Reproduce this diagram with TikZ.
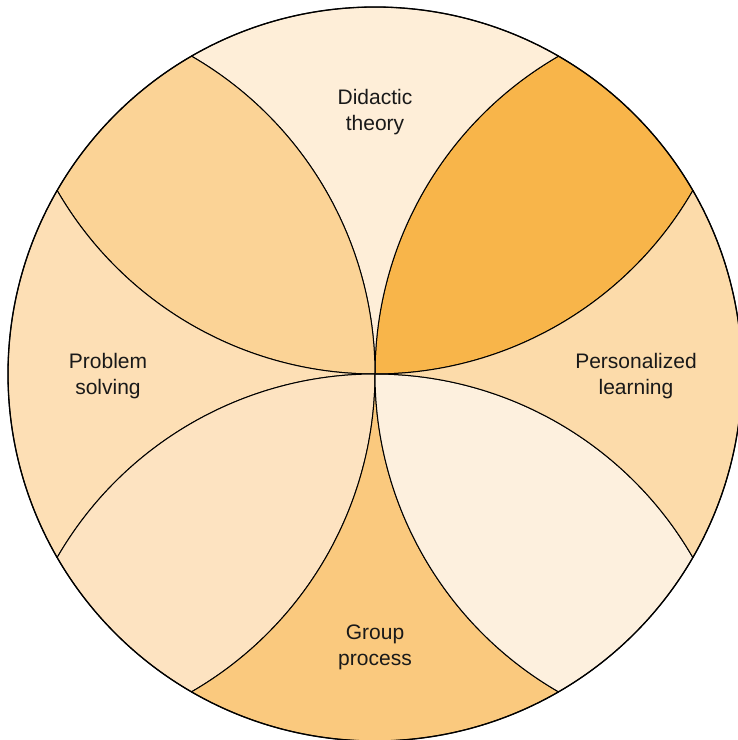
\documentclass[tikz,border=0pt]{standalone}
\usepackage{fontspec}
\setmainfont{Liberation Sans}
\definecolor{leafne}{HTML}{F8B54A}
\definecolor{wedgetop}{HTML}{FEEED8}
\definecolor{leafnw}{HTML}{FBD396}
\definecolor{wedgeleft}{HTML}{FDDFB5}
\definecolor{leafsw}{HTML}{FDE3C1}
\definecolor{wedgebottom}{HTML}{FAC97E}
\definecolor{leafse}{HTML}{FDF0DE}
\definecolor{wedgeright}{HTML}{FCDBAA}
\tikzstyle{petal}=[draw=black, line width=1pt, line join=round]
\tikzstyle{caption}=[align=center, text=black!90, font=\fontsize{21}{26}\selectfont]

\begin{document}
\begin{tikzpicture}[x=1pt,y=1pt]
  \useasboundingbox (0,0) rectangle (738,740);
  \clip (0,0) rectangle (738,740);
  \coordinate (o) at (375,366);
  \def\R{367}

  % Petals and wedges
  \foreach \rot/\leaf/\wedge in {0/leafne/wedgetop, 90/leafnw/wedgeleft,
      180/leafsw/wedgebottom, 270/leafse/wedgeright}{
    \begin{scope}[rotate around={\rot:(o)}]
      \draw[petal,fill=\leaf] (o) arc[start angle=270,end angle=330,radius=\R]
        arc[start angle=30,end angle=60,radius=\R]
        arc[start angle=120,end angle=180,radius=\R] -- cycle;
      \draw[petal,fill=\wedge] (o) arc[start angle=180,end angle=120,radius=\R]
        arc[start angle=60,end angle=120,radius=\R]
        arc[start angle=60,end angle=0,radius=\R] -- cycle;
    \end{scope}
  }
  \draw[line width=1.3pt] (o) circle[radius=\R];

  % Labels
  \node[caption] (didactic) at (375,628) {Didactic\\theory};
  \node[caption] (problem) at (108,364) {Problem\\solving};
  \node[caption] (personal) at (636,364) {Personalized\\learning};
  \node[caption] (group) at (375,93) {Group\\process};
\end{tikzpicture}
\end{document}
